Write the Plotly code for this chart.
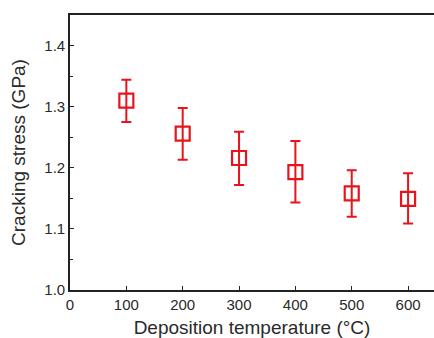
import plotly.graph_objects as go

temps = [100, 200, 300, 400, 500, 600]
stress = [1.310, 1.256, 1.216, 1.193, 1.158, 1.149]
err_up = [1.344, 1.298, 1.259, 1.244, 1.196, 1.191]
err_lo = [1.275, 1.213, 1.172, 1.143, 1.120, 1.109]

plus = [u - s for u, s in zip(err_up, stress)]
minus = [s - l for s, l in zip(stress, err_lo)]

red = "#e8141c"
fig = go.Figure()
fig.add_trace(go.Scatter(
    x=temps, y=stress, mode="markers",
    marker=dict(symbol="square-open", size=14, color=red, line=dict(width=2.2, color=red)),
    error_y=dict(type="data", symmetric=False, array=plus, arrayminus=minus,
                 color=red, thickness=2, width=5),
    showlegend=False,
))

font = "Liberation Sans, Arial, sans-serif"
fig.update_layout(
    width=434, height=338,
    margin=dict(l=70, r=0, t=15, b=48),
    paper_bgcolor="white", plot_bgcolor="white",
    font=dict(family=font, color="#2a2a2a", size=15),
    xaxis=dict(range=[0, 646], tickvals=[0, 100, 200, 300, 400, 500, 600],
               ticks="inside", ticklen=4, tickwidth=1.3, tickcolor="#222",
               showline=True, linecolor="#222", linewidth=1.6, mirror=True,
               showgrid=False, zeroline=False,
               title=dict(text="Deposition temperature (°C)", font=dict(size=19), standoff=10),
               tickfont=dict(size=15)),
    yaxis=dict(range=[1.0, 1.45], tickvals=[1.0, 1.1, 1.2, 1.3, 1.4],
               ticktext=["1.0", "1.1", "1.2", "1.3", "1.4"],
               ticks="inside", ticklen=4, tickwidth=1.3, tickcolor="#222",
               minor=dict(tickvals=[1.05, 1.15, 1.25, 1.35, 1.45], ticks="inside", ticklen=3,
                          tickcolor="#222", tickwidth=1),
               showline=True, linecolor="#222", linewidth=1.6, mirror=False,
               showgrid=False, zeroline=False,
               title=dict(text="Cracking stress (GPa)", font=dict(size=19), standoff=14),
               tickfont=dict(size=15)),
)
fig.write_html("out.html")
